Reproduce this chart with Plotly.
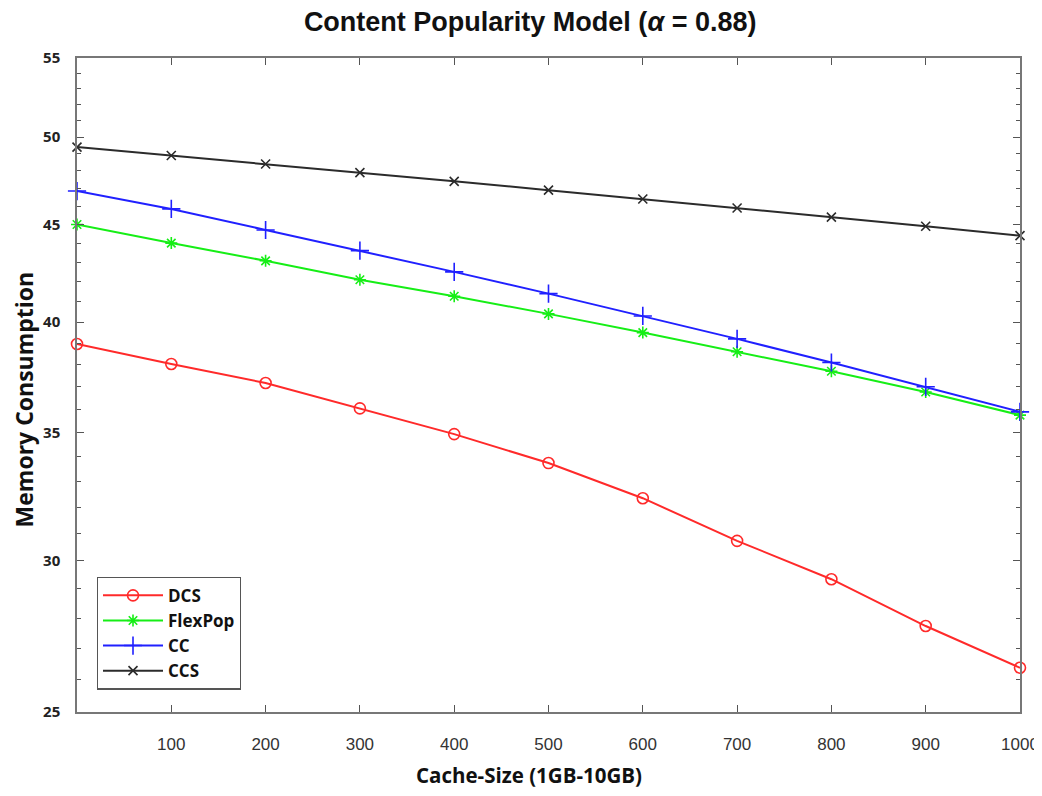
import plotly.graph_objects as go

cache_size = [0, 100, 200, 300, 400, 500, 600, 700, 800, 900, 1000]
dcs = [38.96, 38.03, 37.17, 36.05, 34.95, 33.75, 32.35, 30.73, 29.34, 27.73, 26.37]
flexpop = [45.0, 44.0, 43.07, 42.1, 41.27, 40.4, 39.5, 38.6, 37.7, 36.77, 35.76]
cc = [46.85, 45.85, 44.7, 43.6, 42.5, 41.4, 40.3, 39.2, 38.1, 37.0, 35.9]
ccs = [49.4, 48.9, 48.4, 47.9, 47.4, 46.9, 46.4, 45.9, 45.4, 44.9, 44.4]

x_ticks = [100, 200, 300, 400, 500, 600, 700, 800, 900, 1000]
y_ticks = [25, 30, 35, 40, 45, 50, 55]
y_minor = [v for v in range(26, 55) if v % 5 != 0]

series = [
    ("DCS", dcs, "#ff2a2a", "circle-open", 11),
    ("FlexPop", flexpop, "#16ee16", "asterisk-open", 10),
    ("CC", cc, "#2020ff", "cross-thin-open", 13),
    ("CCS", ccs, "#2b2b2b", "x-thin-open", 9),
]

narrow = "Liberation Sans Narrow, Arial Narrow, Liberation Sans, Arial"
bold_font = "Open Sans, DejaVu Sans, sans-serif"

fig = go.Figure()
for name, vals, color, sym, size in series:
    fig.add_trace(go.Scatter(
        x=cache_size, y=vals, name=name, mode="lines+markers",
        line=dict(color=color, width=2),
        marker=dict(symbol=sym, size=size, color=color, line=dict(color=color, width=1.6)),
        cliponaxis=False,
    ))

fig.update_layout(
    width=1034, height=788,
    paper_bgcolor="white", plot_bgcolor="white",
    margin=dict(l=69, r=22, t=50, b=84, autoexpand=False),
    title=dict(text="<b>Content Popularity Model (<i>α</i> = 0.88)</b>",
               x=0.505, xanchor="center", y=0.983, yanchor="middle",
               font=dict(family=narrow, size=27, color="#111")),
    showlegend=True,
    legend=dict(x=0.021, y=0.207, xanchor="left", yanchor="top",
                bgcolor="white", bordercolor="#555", borderwidth=1.2,
                font=dict(family=bold_font, size=17, color="#111", weight="bold"),
                itemwidth=60, tracegroupgap=3),
    annotations=[
        dict(text="<b>Cache-Size (1GB-10GB)</b>", xref="paper", yref="paper",
             x=0.479, y=-0.0963, xanchor="center", yanchor="middle", showarrow=False,
             font=dict(family=bold_font, size=20.5, color="#111")),
        dict(text="<b>Memory Consumption</b>", xref="paper", yref="paper",
             x=-0.0557, y=0.4786, xanchor="center", yanchor="middle", showarrow=False,
             textangle=-90, font=dict(family=bold_font, size=23, color="#111")),
    ],
)

fig.update_xaxes(
    range=[0, 1000], tickmode="array", tickvals=x_ticks,
    ticks="inside", ticklen=7, tickcolor="#555", tickwidth=1,
    showline=True, linecolor="#777", linewidth=1.5, mirror="ticks",
    showgrid=False, zeroline=False, automargin=False,
    ticklabelstandoff=16,
    tickfont=dict(family=narrow, size=17, color="#333"),
)

fig.update_yaxes(
    type="log", range=[1.39794, 1.74036],
    tickmode="array", tickvals=y_ticks, ticktext=[str(v) for v in y_ticks],
    ticks="inside", ticklen=7, tickcolor="#555", tickwidth=1,
    minor=dict(tickmode="array", tickvals=y_minor, ticks="inside", ticklen=4,
               tickcolor="#555", showgrid=False),
    showline=True, linecolor="#777", linewidth=1.5, mirror="ticks",
    showgrid=False, zeroline=False, automargin=False,
    ticklabelstandoff=12,
    tickfont=dict(family=bold_font, size=15, color="#222", weight="bold"),
)

fig.write_html("out.html")
